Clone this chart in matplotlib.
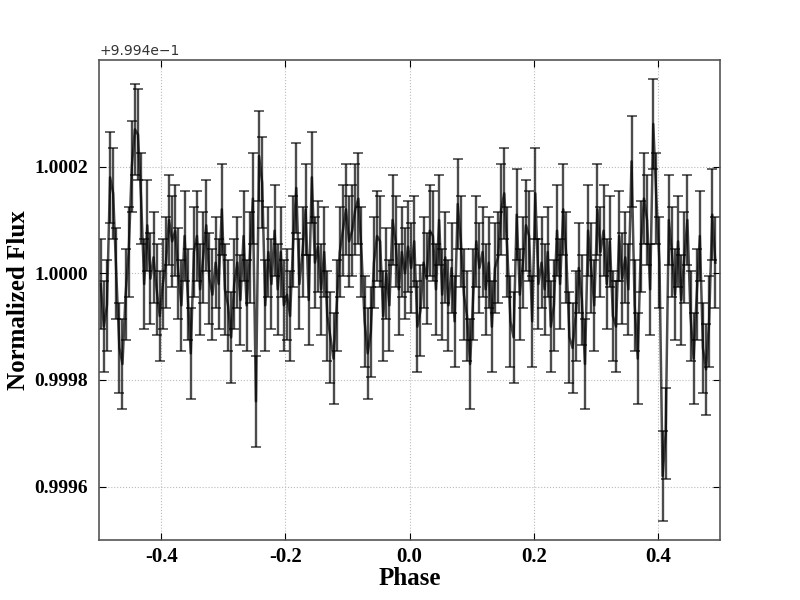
import matplotlib
matplotlib.use('Agg')
import matplotlib.pyplot as plt
import numpy as np
from matplotlib.ticker import FormatStrFormatter

# folded phase of each binned point
phase = [
    -0.4975, -0.4925, -0.4875, -0.4825, -0.4775, -0.4725, -0.4675, -0.4625, -0.4575, -0.4525,
    -0.4475, -0.4425, -0.4375, -0.4325, -0.4275, -0.4225, -0.4175, -0.4125, -0.4075, -0.4025,
    -0.3975, -0.3925, -0.3875, -0.3825, -0.3775, -0.3725, -0.3675, -0.3625, -0.3575, -0.3525,
    -0.3475, -0.3425, -0.3375, -0.3325, -0.3275, -0.3225, -0.3175, -0.3125, -0.3075, -0.3025,
    -0.2975, -0.2925, -0.2875, -0.2825, -0.2775, -0.2725, -0.2675, -0.2625, -0.2575, -0.2525,
    -0.2475, -0.2425, -0.2375, -0.2325, -0.2275, -0.2225, -0.2175, -0.2125, -0.2075, -0.2025,
    -0.1975, -0.1925, -0.1875, -0.1825, -0.1775, -0.1725, -0.1675, -0.1625, -0.1575, -0.1525,
    -0.1475, -0.1425, -0.1375, -0.1325, -0.1275, -0.1225, -0.1175, -0.1125, -0.1075, -0.1025,
    -0.0975, -0.0925, -0.0875, -0.0825, -0.0775, -0.0725, -0.0675, -0.0625, -0.0575, -0.0525,
    -0.0475, -0.0425, -0.0375, -0.0325, -0.0275, -0.0225, -0.0175, -0.0125, -0.0075, -0.0025,
    0.0025, 0.0075, 0.0125, 0.0175, 0.0225, 0.0275, 0.0325, 0.0375, 0.0425, 0.0475,
    0.0525, 0.0575, 0.0625, 0.0675, 0.0725, 0.0775, 0.0825, 0.0875, 0.0925, 0.0975,
    0.1025, 0.1075, 0.1125, 0.1175, 0.1225, 0.1275, 0.1325, 0.1375, 0.1425, 0.1475,
    0.1525, 0.1575, 0.1625, 0.1675, 0.1725, 0.1775, 0.1825, 0.1875, 0.1925, 0.1975,
    0.2025, 0.2075, 0.2125, 0.2175, 0.2225, 0.2275, 0.2325, 0.2375, 0.2425, 0.2475,
    0.2525, 0.2575, 0.2625, 0.2675, 0.2725, 0.2775, 0.2825, 0.2875, 0.2925, 0.2975,
    0.3025, 0.3075, 0.3125, 0.3175, 0.3225, 0.3275, 0.3325, 0.3375, 0.3425, 0.3475,
    0.3525, 0.3575, 0.3625, 0.3675, 0.3725, 0.3775, 0.3825, 0.3875, 0.3925, 0.3975,
    0.4025, 0.4075, 0.4125, 0.4175, 0.4225, 0.4275, 0.4325, 0.4375, 0.4425, 0.4475,
    0.4525, 0.4575, 0.4625, 0.4675, 0.4725, 0.4775, 0.4825, 0.4875, 0.4925,
]

# normalized flux minus 1, in units of 1e-5
flux_dev = [
    -2, -10, -6, 18, 15, 0, -14, -17, -4, 4,
    20, 27, 26, 14, -2, 9, -1, 3, -3, -8,
    -2, 2, 10, 6, 8, 0, -6, 7, -4, -15,
    4, 7, -3, 3, 9, -1, -4, 2, -2, 12,
    -3, -6, -12, -2, 2, -5, 7, -6, 3, 14,
    -24, 22, 17, -6, 4, -2, 8, -3, 4, -6,
    -4, -8, 6, 16, -2, 4, 12, -5, 18, 2,
    5, -3, 4, -8, -12, -16, -6, 4, 8, 12,
    6, 8, 12, 14, 4, -9, -15, -11, 2, 7,
    6, -8, 0, -6, 10, 6, -3, 4, 0, 5,
    1, 6, -10, -7, 2, -1, 8, 7, -3, 10,
    -4, 3, -6, 1, -9, 13, 6, -4, -8, -17,
    -4, 6, 1, 4, -3, 2, -10, 1, 3, 12,
    15, 4, -9, -12, 11, -4, 2, 9, 7, -9,
    15, -2, 2, -3, 4, -10, -6, 8, -2, 12,
    3, -12, -14, -8, 1, -5, -17, 8, 1, -6,
    12, 4, 8, -2, 6, -8, -10, 7, -1, 3,
    -3, 21, -6, -16, 5, 14, 10, -3, 28, 14,
    2, -38, -30, 10, 4, -4, 6, -5, 3, 10,
    -8, -16, -4, 7, -14, -18, -9, 11, 2,
]
flux_err = 8.5e-5

flux = 1.0 + np.array(flux_dev) * 1e-5

serif = 'Liberation Serif'

fig = plt.figure(figsize=(8, 6), dpi=100)
ax = fig.add_axes([0.124, 0.1, 0.776, 0.8])

ax.errorbar(phase, flux, yerr=flux_err, fmt='-', color='k', ecolor='k',
            lw=1.8, elinewidth=1.7, capsize=3.5, capthick=1.2, alpha=0.7)

ax.set_xlim(-0.5, 0.5)
ax.set_ylim(0.9995, 1.0004)
ax.set_xticks([-0.4, -0.2, 0.0, 0.2, 0.4])
ax.set_yticks([0.9996, 0.9998, 1.0, 1.0002])
ax.xaxis.set_major_formatter(FormatStrFormatter('%.1f'))
ax.yaxis.set_major_formatter(FormatStrFormatter('%.4f'))
ax.grid(True, ls=':', color='#bbbbbb', lw=0.8)
ax.tick_params(direction='in', top=True, right=True, length=5, pad=8)
ax.tick_params(axis='x', labelsize=15, pad=5)
ax.tick_params(axis='y', labelsize=14)
for lab in ax.get_xticklabels() + ax.get_yticklabels():
    lab.set_fontfamily(serif)
    lab.set_fontweight('bold')
for sp in ax.spines.values():
    sp.set_color('#555555')
    sp.set_linewidth(1.2)

ax.set_xlabel('Phase', fontfamily=serif, fontweight='bold', fontsize=18, labelpad=0)
ax.set_ylabel('Normalized Flux', fontfamily=serif, fontweight='bold', fontsize=18, labelpad=3)
ax.text(0.0, 1.004, '+9.994e\u22121', transform=ax.transAxes, ha='left', va='bottom',
        fontsize=10, color='#333333')

fig.savefig('out.png', dpi=100)
plt.close(fig)
